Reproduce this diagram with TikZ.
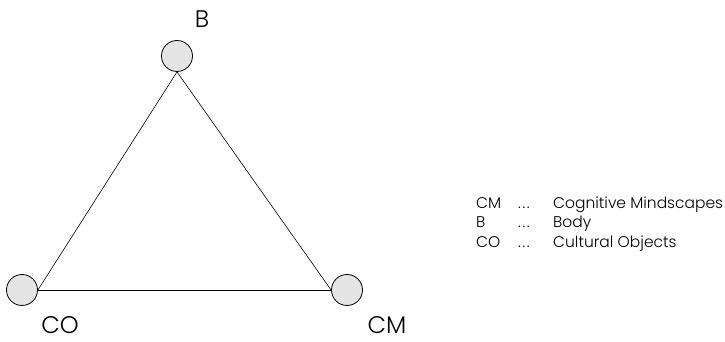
\documentclass[tikz,border=0pt]{standalone}
\usepackage{fontspec}
\setmainfont{Poppins Light}
\begin{document}
\begin{tikzpicture}[x=1pt,y=1pt,
  vert/.style={circle,draw=black,fill=gray!20,line width=0.8pt,minimum size=31pt,inner sep=0pt},
  edge/.style={draw=black,line width=0.6pt},
  biglbl/.style={font=\fontsize{24}{27}\selectfont,inner sep=0pt,anchor=base,text depth=0pt},
  leg/.style={font=\fontsize{15.5}{17}\selectfont,inner sep=0pt,anchor=base west}]
\useasboundingbox (0,0) rectangle (725,342);
\node[vert] (B) at (177,286) {};
\node[vert] (CO) at (22,52) {};
\node[vert] (CM) at (347,52) {};
\draw[edge] (B.south) -- (CO.east);
\draw[edge] (B.south) -- (CM.west);
\draw[edge] (CO.east) -- (CM.west);
\node[biglbl] (lB) at (202,314) {B};
\node[biglbl] (lCO) at (60,8) {CO};
\node[biglbl] (lCM) at (387,8) {CM};
\node[leg] (k1) at (476,133.5) {CM};
\node[leg] (k2) at (476,114.5) {B};
\node[leg] (k3) at (476,94.5) {CO};
\node[leg] (d1) at (518,133.5) {.\kern1.5pt.\kern1.5pt.};
\node[leg] (d2) at (518,114.5) {.\kern1.5pt.\kern1.5pt.};
\node[leg] (d3) at (518,94.5) {.\kern1.5pt.\kern1.5pt.};
\node[leg] (t1) at (553,133.5) {Cognitive Mindscapes};
\node[leg] (t2) at (553,114.5) {Body};
\node[leg] (t3) at (553,94.5) {Cultural Objects};
\end{tikzpicture}
\end{document}
